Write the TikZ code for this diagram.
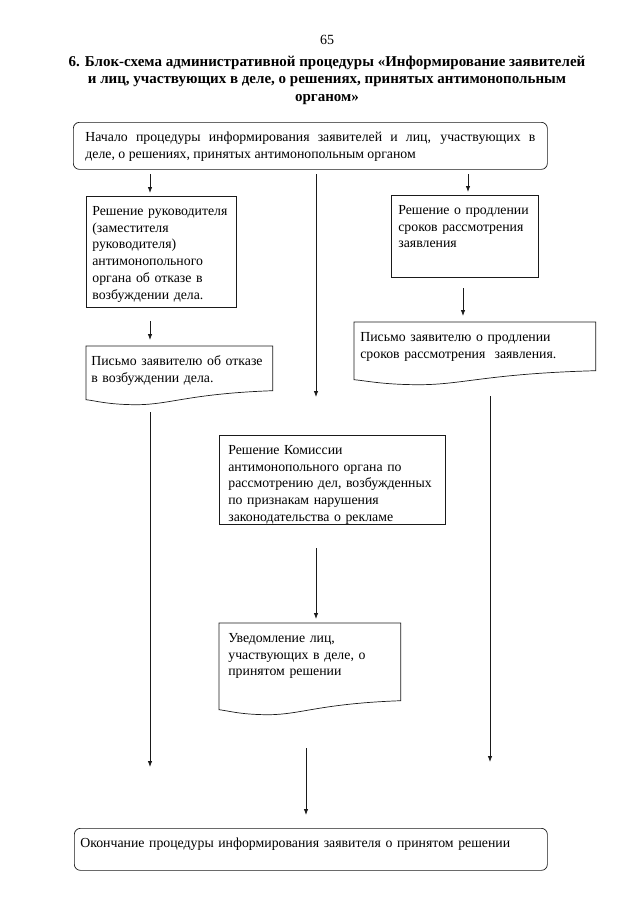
\documentclass[tikz,border=0pt]{standalone}
\usepackage{fontspec}
\setmainfont{Liberation Serif}
\usepackage{xcolor}
\definecolor{cInk}{HTML}{1A1A1A}
\usepackage{tikz}
\usetikzlibrary{arrows.meta,calc}
\tikzset{
  node-box/.style={draw=cInk,line width=0.7pt,anchor=north west,align=left,
    inner ysep=8pt,text height=11pt,font=\fontsize{13.8}{16.8}\selectfont},
  node-term/.style={node-box,rounded corners=6pt},
  % документ: рамка рисуется отдельно, с волнистым низом
  node-doc/.style={node-box,draw=none},
  arrow/.style={-{Latex[length=6pt,width=4.5pt]},draw=cInk,line width=0.8pt},
  title-text/.style={align=center,font=\bfseries\fontsize{15}{17.5}\selectfont},
}
\newcommand{\docwave}[1]{%
  \draw[cInk,line width=0.7pt] (#1.north west) -- (#1.north east) -- (#1.south east)
    .. controls ($(#1.south west)!0.55!(#1.south east)+(0,3)$)
       and ($(#1.south west)!0.45!(#1.south east)+(0,14)$)
    .. ($(#1.south west)!0.27!(#1.south east)+(0,14)$)
    .. controls ($(#1.south west)!0.12!(#1.south east)+(0,14)$)
       and ($(#1.south west)!0.05!(#1.south east)+(0,10)$)
    .. ($(#1.south west)+(0,9)$) -- cycle;}

\begin{document}
\begin{tikzpicture}[x=1pt,y=-1pt]
  \useasboundingbox (0,0) rectangle (640,905);
  \node[font=\fontsize{14}{16}\selectfont] (pg) at (327,40) {65};
  \node[title-text] (ttl) at (327,80) {6. Блок-схема административной процедуры «Информирование заявителей\\
    и лиц, участвующих в деле, о решениях, принятых антимонопольным\\органом»};

  \node[node-term,inner xsep=12pt,text width=450pt,align=justify,text depth=20pt] (start) at (73,122)
    {Начало процедуры информирования заявителей и лиц, участвующих в\linebreak деле, о решениях, принятых антимонопольным органом};

  \node[node-box,inner xsep=6pt,text width=138pt,text depth=84pt] (dec1) at (86,196)
    {Решение руководителя\\(заместителя\\руководителя)\\антимонопольного\\органа об отказе в\\возбуждении дела.};
  \node[node-doc,inner xsep=5pt,text width=176pt,text depth=17pt] (let1) at (86,346)
    {Письмо заявителю об отказе\\в возбуждении дела.};
  \docwave{let1}

  \node[node-box,inner xsep=7pt,text width=133pt,text depth=55pt] (decR) at (391,195)
    {Решение о продлении\\сроков рассмотрения\\заявления};
  \node[node-doc,inner xsep=6pt,text width=229pt,text depth=21pt] (letR) at (354,322)
    {Письмо заявителю о продлении\\сроков рассмотрения\ \ заявления.};
  \docwave{letR}

  \node[node-box,inner xsep=9pt,text width=208pt,text depth=62pt] (com) at (219,435)
    {Решение Комиссии\\антимонопольного органа по\\рассмотрению дел, возбужденных\\по признакам нарушения\\законодательства о рекламе};
  \node[node-doc,inner xsep=9pt,text width=163pt,text depth=50pt] (note) at (219,623)
    {Уведомление лиц,\\участвующих в деле, о\\принятом решении};
  \docwave{note}

  \node[node-term,inner xsep=6pt,text width=461pt,text depth=15pt] (fin) at (74,828)
    {Окончание процедуры информирования заявителя о принятом решении};

  % концы стрелок
  \coordinate (a1) at (150,174); \coordinate (b1) at (150,193);
  \coordinate (a2) at (316,174); \coordinate (b2) at (316,397);
  \coordinate (a3) at (468,174); \coordinate (b3) at (468,192);
  \coordinate (a4) at (150,321); \coordinate (b4) at (150,340);
  \coordinate (a5) at (463,288); \coordinate (b5) at (463,316);
  \coordinate (a6) at (150,412); \coordinate (b6) at (150,767);
  \coordinate (a7) at (490,396); \coordinate (b7) at (490,762);
  \coordinate (a8) at (316,548); \coordinate (b8) at (316,619);
  \coordinate (a9) at (306,748); \coordinate (b9) at (306,815);
  \foreach \n in {1,...,9}
    \draw[arrow] (a\n) -- (b\n);
\end{tikzpicture}
\end{document}
